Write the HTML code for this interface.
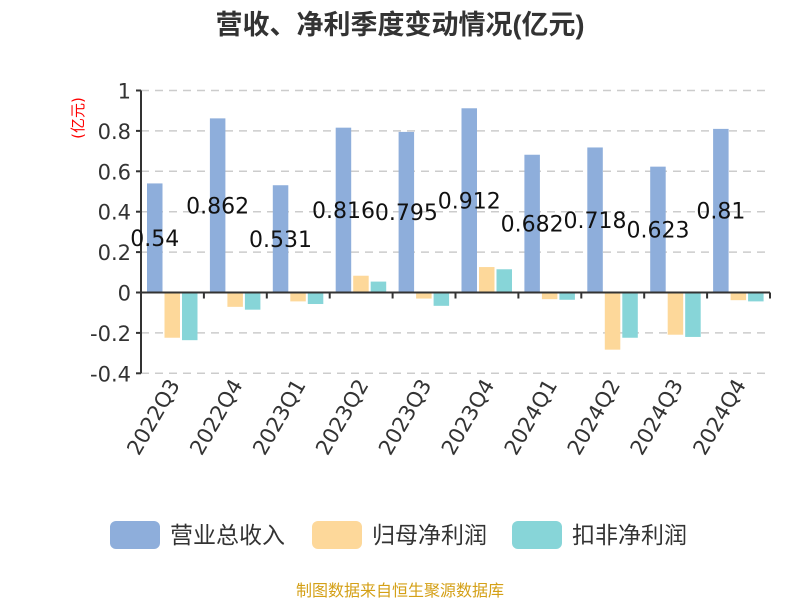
<!DOCTYPE html>
<html><head><meta charset="utf-8"><style>
body{margin:0;background:#fff;}
svg{display:block;font-family:"DejaVu Sans","Noto Sans CJK SC",sans-serif;}
</style></head><body>
<svg id="c" width="800" height="600" viewBox="0 0 800 600">
<text x="400" y="34" text-anchor="middle" font-size="27" font-weight="bold" fill="#333" font-family="Liberation Sans, Noto Sans CJK SC, sans-serif">营收、净利季度变动情况(亿元)</text>
<text transform="translate(83,118) rotate(-90)" text-anchor="middle" font-size="15" fill="#f00">(亿元)</text>
<g id="grid"></g><g id="bars"></g><g id="axes"></g><g id="labels"></g>
<g font-family="Liberation Sans, Noto Sans CJK SC, sans-serif">
<rect x="110" y="521" width="50" height="28" rx="6" fill="#8eaedb"/>
<text x="170" y="543" font-size="23" fill="#333">营业总收入</text>
<rect x="312" y="521" width="50" height="28" rx="6" fill="#fdd89a"/>
<text x="372" y="543" font-size="23" fill="#333">归母净利润</text>
<rect x="512" y="521" width="50" height="28" rx="6" fill="#87d5d8"/>
<text x="572" y="543" font-size="23" fill="#333">扣非净利润</text>
</g>
<text x="400" y="596" text-anchor="middle" font-size="16" fill="#d4a017" font-family="Liberation Sans, Noto Sans CJK SC, sans-serif">制图数据来自恒生聚源数据库</text>
</svg>
<script>
const categories=["2022Q3","2022Q4","2023Q1","2023Q2","2023Q3","2023Q4","2024Q1","2024Q2","2024Q3","2024Q4"];
const revenue=[0.54,0.862,0.531,0.816,0.795,0.912,0.682,0.718,0.623,0.81];
const netProfit=[-0.224,-0.071,-0.044,0.083,-0.03,0.126,-0.033,-0.283,-0.209,-0.038];
const deductedProfit=[-0.236,-0.085,-0.057,0.054,-0.066,0.115,-0.036,-0.224,-0.22,-0.044];
const yTicks=[1,0.8,0.6,0.4,0.2,0,-0.2,-0.4];
const NS="http://www.w3.org/2000/svg";
const X0=141,X1=770,Y1=90.5,Y0=292.5;
const cw=(X1-X0)/categories.length;
function y(v){return Y0-(v)*(Y0-Y1);}
function mk(t,a,p){const e=document.createElementNS(NS,t);for(const k in a)e.setAttribute(k,a[k]);p.appendChild(e);return e;}
const grid=document.getElementById('grid'),bars=document.getElementById('bars'),axes=document.getElementById('axes'),labels=document.getElementById('labels');
yTicks.forEach(v=>{
  if(v!==0){const g=mk('line',{x1:X0,x2:X1,y1:y(v),y2:y(v),stroke:'#ccc','stroke-width':1.5,'stroke-dasharray':'8,6'},grid);
  
  }
  const t=mk('text',{x:X0-10,y:y(v)+8,'text-anchor':'end','font-size':21,fill:'#333'},axes);
  t.textContent=String(v);
  
  
  const tk=mk('line',{x1:X0-5,x2:X0,y1:y(v),y2:y(v),stroke:'#333','stroke-width':2},axes);
  
  
});
const series=[[revenue,'#8eaedb',6],[netProfit,'#fdd89a',23.5],[deductedProfit,'#87d5d8',41]];
categories.forEach((c,i)=>{
  const cx=X0+i*cw;
  series.forEach(([arr,col,off],s)=>{
    const v=arr[i];const top=Math.min(y(v),y(0));const h=Math.abs(y(v)-y(0));
    const r=mk('rect',{x:cx+off,y:top,width:15.5,height:h,fill:col},bars);
    
    
  });
  const lt=mk('text',{x:cx+6+7.75,y:y(revenue[i]/2)+8,'text-anchor':'middle','font-size':22,fill:'#111'},labels);
  lt.textContent=String(revenue[i]);
  
  
  const tk=mk('line',{x1:cx+cw,x2:cx+cw,y1:Y0,y2:Y0+6,stroke:'#333','stroke-width':2},axes);
  
  
  const xl=mk('text',{'text-anchor':'end','font-size':21,fill:'#333'},axes);
  xl.textContent=c;
  xl.setAttribute('transform','translate('+(cx+cw/2+8)+','+(Y0+92)+') rotate(-60)');
  
  
});
const ax=mk('line',{x1:X0,x2:X0,y1:Y1,y2:y(-0.4),stroke:'#333','stroke-width':2},axes);


const zx=mk('line',{x1:X0,x2:X1,y1:Y0,y2:Y0,stroke:'#333','stroke-width':2},axes);


</script>
</body></html>
